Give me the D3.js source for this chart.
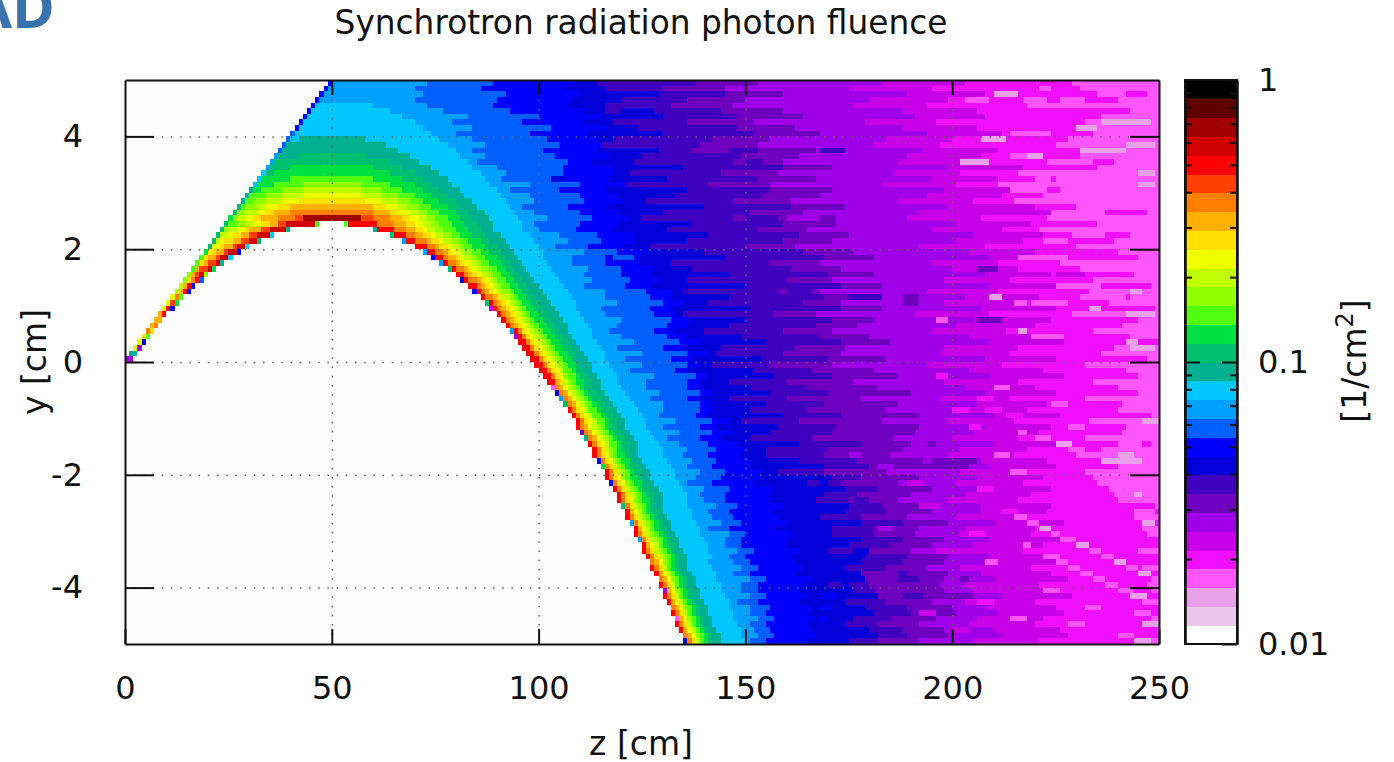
<!DOCTYPE html>
<html>
<head>
<meta charset="utf-8">
<script src="https://cdn.jsdelivr.net/npm/d3@7"></script>
<style>
  html, body { margin: 0; background: #fff; }
  svg { display: block; font-family: "DejaVu Sans", sans-serif; }
</style>
</head>
<body>
<svg id="chart" width="1394" height="762"></svg>
<script>
// palette of the colour box, index 0 = 0.01 (white) up to 29 = 1 (black)
const band_colors = ["#ffffff","#ebc8eb","#e8a0e8","#ff55ff","#f010ff","#c800e8","#a000e8","#7000c0","#4000c0","#0000d8",
  "#0000ff","#0060ff","#00a0ff","#00c8ff","#00b090","#00c070","#00e040","#50ff10","#90ff00","#c0ff00",
  "#f0ff00","#ffe000","#ffb000","#ff8000","#ff4000","#ff0000","#d00000","#a00000","#600000","#000000"];

const z_ticks = [0, 50, 100, 150, 200, 250];
const y_ticks = [-4, -2, 0, 2, 4];
const grid_z = [50, 100, 150, 200];
const cb_major = [0.01, 0.1, 1];
const cb_minor = [0.02,0.03,0.04,0.05,0.06,0.07,0.08,0.09,0.2,0.3,0.4,0.5,0.6,0.7,0.8,0.9];

// rows 0-24 (y 4.95 .. 2.55), flat pairs: z where a band starts, band index
const upper_runs = [
  [49,10,50,12],[48,10,49,12],[47,10,48,12],[46,10,47,12],
  [45,10,46,13,60,12],[44,10,45,13,64,12],[43,10,44,13,67,12],[42,10,43,13,70,12],[41,10,42,13,72,12],
  [40,11,41,13,74,12],[39,11,40,13,42,14,58,13,76,12],[38,11,39,14,63,13,78,12],[37,11,38,14,66,13,80,12],
  [36,12,37,14,42,15,58,14,69,13,81,12],[35,12,36,15,64,14,71,13,83,12],
  [34,12,35,15,40,16,60,15,67,14,74,13,84,12],[33,13,34,15,36,16,64,15,70,14,76,13,86,12],
  [32,13,33,16,40,17,60,16,67,15,72,14,78,13,87,12],[31,13,32,16,36,17,43,18,57,17,64,16,70,15,74,14,79,13,88,12],
  [30,14,31,16,33,17,38,18,43,19,57,18,62,17,67,16,72,15,76,14,81,13,90,12],
  [29,14,30,17,34,18,38,19,43,20,57,19,62,18,66,17,70,16,74,15,78,14,82,13,91,12],
  [28,14,29,17,31,18,34,19,38,20,42,21,58,20,62,19,66,18,69,17,72,16,76,15,80,14,84,13,92,12],
  [27,15,28,17,29,18,32,19,34,20,37,21,40,22,60,21,63,20,66,19,68,18,71,17,74,16,78,15,81,14,85,13,93,12],
  [26,15,27,18,29,19,32,20,34,21,36,22,40,23,60,22,64,21,66,20,69,19,71,18,73,17,76,16,80,15,83,14,87,13,94,12],
  [25,16,26,18,27,19,29,20,31,21,33,22,37,23,41,24,43,27,57,24,60,23,64,22,67,21,69,20,71,19,73,18,75,17,78,16,81,15,84,14,88,13,95,12]
];

// rows 25-49 (y 2.45 .. 0.05), ribbon left of the white hollow, last pair closes it with band 0
const left_runs = [
  [24,15,25,17,27,18,29,19,31,20,33,21,35,22,37,24,39,26,46,17,47,0],
  [23,15,24,18,25,19,27,20,29,21,30,22,33,24,35,26,39,14,40,0],
  [22,15,23,19,25,20,26,21,28,22,30,24,32,26,35,13,36,0],
  [21,15,22,19,23,20,24,21,26,22,28,24,30,26,32,15,33,0],
  [20,15,21,20,23,21,24,22,26,24,27,26,29,13,30,0],
  [19,16,20,20,21,21,22,22,24,24,25,26,27,10,28,0],
  [18,17,19,21,20,22,22,24,23,26,25,13,26,0],
  [17,17,18,21,19,22,20,24,22,26,23,14,24,0],
  [16,17,17,22,18,24,20,26,21,16,22,0],
  [15,18,16,22,17,24,18,26,19,18,20,0],
  [14,18,15,21,16,23,17,25,18,11,19,0],
  [13,19,14,22,15,25,16,10,17,0],
  [12,19,13,22,14,25,15,10,16,0],
  [11,20,12,23,13,17,14,0],
  [10,20,11,24,12,16,13,0],
  [9,20,10,25,11,10,12,0],
  [8,22,9,25,10,0],
  [7,22,8,22,9,0],
  [6,22,7,23,8,0],
  [5,23,6,21,7,0],
  [4,21,5,17,6,0],
  [3,20,4,10,5,0],
  [2,20,3,6,4,0],
  [1,14,3,0],
  [0,6,2,0]
];

// rows 25-99: starts of the bands on the falling side of the parabola
const right_levels = [25,23,22,21,20,19,18,17,16,15,14,13,12];
const right_from = [
  [53,61,65,68,70,72,74,76,79,82,85,89,96],
  [60,65,68,70,72,73,75,77,80,83,86,89,96],[64,68,70,72,74,75,77,79,81,84,87,91,98],[67,70,73,74,76,77,79,81,83,86,88,92,99],
  [70,73,75,76,78,79,81,82,84,87,90,93,100],[72,75,77,78,79,81,82,84,86,88,91,94,101],[74,77,78,80,81,82,84,85,87,90,92,95,101],
  [76,78,80,81,82,84,85,86,88,91,93,96,102],[78,80,82,83,84,85,86,88,90,92,94,97,103],[80,82,83,84,85,86,88,89,91,93,95,98,104],
  [81,83,85,86,87,88,89,90,92,94,96,99,105],[83,85,86,87,88,89,90,91,93,95,97,100,106],[84,86,87,88,89,90,91,93,94,96,98,101,107],
  [86,87,89,90,91,91,93,94,95,97,99,102,108],[87,89,90,91,92,93,94,95,96,98,100,103,109],[88,90,91,92,93,94,95,96,97,99,101,104,109],
  [90,91,92,93,94,95,96,97,98,100,102,105,110],[91,92,93,94,95,96,97,98,99,101,103,106,111],[92,93,94,95,96,97,98,99,100,102,104,107,112],
  [93,95,96,96,97,98,99,100,101,103,105,107,113],[94,96,97,97,98,99,100,101,102,104,106,108,113],[95,97,98,98,99,100,101,102,103,105,107,109,114],
  [96,98,99,99,100,101,102,103,104,106,108,110,115],[97,99,100,100,101,102,103,104,105,107,109,111,116],[98,100,101,101,102,103,104,105,106,108,109,112,116],
  [99,101,102,102,103,104,105,106,107,109,110,113,117],[100,102,103,103,104,105,106,106,108,109,111,113,118],[101,103,104,104,105,106,106,107,109,110,112,114,119],
  [102,104,104,105,106,106,107,108,109,111,113,115,119],[103,104,105,106,106,107,108,109,110,111,113,115,120],[104,105,106,107,107,108,109,110,111,112,114,116,121],
  [105,106,107,108,108,109,110,111,112,113,115,117,122],[106,107,108,109,109,110,111,112,113,114,116,118,123],[107,108,109,109,110,111,112,112,114,115,117,119,124],
  [108,109,110,110,111,112,113,113,115,116,118,120,125],[109,110,111,111,112,113,114,114,116,117,119,121,126],[109,110,111,112,112,113,114,115,116,117,119,121,126],
  [110,111,112,113,113,114,115,116,117,118,120,122,127],[111,112,113,114,114,115,116,117,118,119,121,123,128],[112,113,114,114,115,116,117,117,119,120,122,124,129],
  [113,114,115,115,116,116,117,118,119,120,122,124,130],[113,114,115,115,116,117,117,118,119,121,122,124,130],[114,115,116,116,117,118,118,119,120,122,123,125,131],
  [115,116,117,117,118,118,119,120,121,122,124,126,132],[116,117,118,118,119,119,120,121,122,123,125,127,133],[116,117,118,118,119,120,120,121,122,124,125,127,133],
  [117,118,119,119,120,121,121,122,123,125,126,128,134],[118,119,120,120,121,121,122,123,124,125,127,129,135],[119,120,121,121,122,122,123,124,125,126,128,130,136],
  [119,120,121,121,122,123,123,124,125,127,128,130,136],[120,121,122,122,123,123,124,125,126,127,128,130,136],[121,122,122,123,123,124,125,125,126,127,129,130,137],
  [121,122,123,123,124,124,125,126,127,128,129,131,137],[122,123,124,124,125,125,126,127,128,129,130,132,138],[123,124,124,125,125,126,127,127,128,129,131,132,139],
  [123,124,125,125,126,126,127,128,129,130,131,133,139],[124,125,126,126,127,127,128,129,130,131,132,134,140],[125,126,126,127,127,128,129,129,130,131,133,134,141],
  [125,126,127,127,128,128,129,130,131,132,133,135,141],[126,127,128,128,129,129,130,131,132,133,134,136,142],[127,127,128,129,129,130,130,131,132,133,134,136,141],
  [127,128,129,129,130,130,131,131,132,133,134,136,142],[128,129,129,130,130,131,132,132,133,134,135,137,143],[129,129,130,131,131,132,132,133,134,135,136,138,143],
  [129,130,131,131,132,132,133,133,134,135,136,138,144],[130,131,131,132,132,133,133,134,135,136,137,139,144],[130,131,132,132,133,133,134,134,135,136,137,139,145],
  [131,132,132,133,133,134,135,135,136,137,138,140,146],[132,132,133,134,134,135,135,136,137,138,139,141,146],[132,133,134,134,135,135,136,136,137,138,139,141,147],
  [133,134,134,135,135,136,136,137,138,139,140,142,147],[133,134,135,135,136,136,137,137,138,139,140,142,148],[134,135,135,136,136,137,138,138,139,140,141,143,149],
  [135,135,136,137,137,138,138,139,140,141,142,144,149],[135,136,137,137,138,138,139,139,140,141,142,144,150]
];
// first cell next to the hollow, rows 25-99
const rim_level = [17,14,15,12,25,12,10,12,15,25,9,25,10,25,15,5,25,25,25,12,6,25,25,25,25,25,25,25,25,3,9,12,15,25,25,25,25,7,14,25,25,25,9,16,25,25,9,25,25,25,15,25,25,12,25,25,12,25,25,25,14,25,25,17,25,6,25,25,14,25,3,25,25,14,9];

// outer bands, one value per 0.2 cm of y from 4.9 down to -4.9: z where the band starts
const from_11 = [72,70,76,80,82,84,86,88,92,95,97,99,100,103,106,108,110,112,114,116,117,118,120,121,122,124,126,127,129,130,131,133,134,136,137,138,139,141,142,143,145,146,147,148,149,150,150,151,152,152];
const from_10 = [88,90,92,97,100,102,103,104,106,107,109,110,111,112,114,116,118,121,124,127,129,130,131,132,133,135,136,137,138,139,140,141,141,142,143,144,145,146,147,148,149,150,151,152,153,154,155,155,156,156];
const from_9 = [108,108,110,112,114,114,116,116,118,118,118,119,120,121,122,124,126,128,130,132,134,135,136,137,138,138,139,140,141,142,144,146,148,150,152,154,156,157,158,159,160,161,162,163,164,164,165,165,166,166];
const from_8 = [121,122,124,124,122,122,124,126,128,130,131,132,132,134,135,136,138,140,142,143,144,145,146,147,148,150,150,151,152,153,154,155,157,160,164,168,170,172,172,173,174,175,176,177,178,178,178,178,178,178];
const from_7 = [135,138,140,142,144,146,148,150,150,150,152,153,154,156,158,160,162,164,165,166,166,166,165,165,164,164,164,165,166,167,168,170,172,174,175,176,178,180,182,183,184,185,186,188,188,188,188,187,186,185];
const from_6 = [150,152,155,158,160,160,162,162,164,165,166,166,167,168,170,172,174,175,175,175,176,176,177,177,178,179,180,182,184,186,188,190,190,190,190,190,191,192,193,194,194,195,196,198,200,200,199,198,196,195];
const from_5 = [180,182,184,185,186,188,188,190,192,192,192,194,196,198,200,200,201,202,201,200,200,200,201,201,202,202,202,203,203,204,204,204,204,204,204,204,204,204,205,205,205,205,206,206,206,207,207,208,208,208];
const from_4 = [200,201,202,202,204,204,206,208,208,210,210,212,214,215,216,216,217,218,218,218,218,219,219,219,219,220,220,220,220,220,220,220,220,220,220,220,220,221,221,222,222,222,223,223,224,224,224,224,224,224];
const from_3 = [226,228,226,230,226,232,230,226,222,220,220,222,230,236,238,236,232,238,240,240,238,240,240,242,241,240,238,240,238,242,238,240,242,240,238,238,240,246,248,248,250,250,250,250,250,250,250,250,250,250];
const outer_levels = [11,10,9,8,7,6,5,4,3];
const outer_from = [from_11, from_10, from_9, from_8, from_7, from_6, from_5, from_4, from_3];

// how far each row's edges stick out from the 0.2 cm table above (the picture is streaky along z)
const jag_inner = [1,-2,2,0,-3,1,3,-1,2,-2,0,3,-2,1,-3,2,0,-1,3,-2,1,2,-3,0,2,-1,-3,2,1,-2,3,0,-2,2,-1,1,-3,2,0,3,-2,-1,2,1,-3,0,2,-2,3,-1,1,-2,2,0,-1,2,-2,1,0,-1,2,-1,1,-2,0,2,-1,1,-1,2,0,-2,1,0,-1,2,-1,0,1,-2,1,0,-1,2,-1,0,1,-1,2,0,-1,1,-2,1,0,2,-1,0,1,-1];
const jag_outer = [3,-5,7,-2,-8,4,6,-6,2,8,-4,-7,5,1,-3,9,-6,3,-9,6,2,-5,8,-2,-7,5,-3,7,1,-8,4,9,-6,-1,6,-4,8,-7,3,-2,7,-9,5,1,-6,3,8,-3,-5,6,-8,2,7,-4,0,5,-6,3,-2,6,-5,4,1,-4,6,-2,-5,3,5,-6,2,-3,4,-1,-5,3,2,-4,5,-2,-3,4,0,-5,3,2,-4,1,4,-3,-2,5,-4,1,3,-2,-4,2,4,-3];

const streaks = [
  [0,114,127,8],[1,116,125,8],[4,133,138,7],[5,116,120,8],[8,144,148,8],[8,93,103,11],[12,137,146,7],[14,99,107,11],[14,150,154,8],[17,140,145,8],[17,103,106,9],
  [20,123,133,9],[24,150,158,8],[30,149,158,8],[31,118,123,11],[36,158,166,8],[37,160,166,8],[12,168,174,8],[38,175,183,8],[24,168,172,7],[38,188,192,7],[39,188,192,7],
  [2,210,216,2],[3,203,209,3],[3,217,223,3],[1,224,231,4],[2,232,235,4],[3,232,240,4],[2,242,247,4],[5,225,232,4],[5,232,243,4],[7,208,232,4],[8,212,230,4],
  [7,236,248,2],[8,230,235,2],[9,214,224,3],[10,207,213,2],[12,231,242,2],[11,242,249,2],[14,202,209,2],[13,214,222,3],[13,218,222,2],[14,234,239,4],[15,231,234,4],
  [16,245,249,2],[18,245,249,2],[19,214,223,3],[17,220,224,3],[22,199,212,5],[23,199,224,5],[23,237,247,4],[26,221,237,3],[27,229,237,3],[28,222,228,3],
  [30,193,202,6],[31,216,228,3],[33,206,211,7],[34,225,232,5],[36,225,236,3],[37,243,246,2],[38,209,212,2],[38,231,242,3],[39,215,218,3],[39,219,228,3],
  [40,233,236,2],[41,242,249,2],[40,245,249,4],[42,206,212,7],[42,196,199,3],[44,216,218,2],[45,219,227,3],[46,242,245,2],[47,243,249,2],
  [56,206,210,4],[58,200,204,4],[58,208,212,4],[59,213,217,4],[62,178,188,7],[63,178,186,7],[64,180,188,7],[65,182,188,7],[67,195,206,7],[68,195,204,7],
  [66,175,178,6],[68,182,186,6],[71,189,193,5],[70,168,171,9],[71,168,170,9],[72,168,172,9],[91,168,172,10],[93,168,171,10],[95,168,170,10],
  [87,178,187,7],[88,179,187,7],[89,180,187,7],[90,181,188,7],[91,182,188,7],
  [62,216,218,3],[63,220,224,3],[63,232,236,3],[64,225,229,2],[64,240,246,3],[65,228,232,3],[65,236,241,3],[66,230,235,3],[66,240,244,2],[67,236,246,2],[68,240,248,3],
  [70,234,250,3],[71,236,250,3],[72,238,250,3],[73,240,250,3],[74,240,250,3],[73,244,246,2],
  [77,215,218,3],[78,218,221,3],[79,221,224,2],[80,224,226,3],[81,226,230,3],[82,230,233,2],[83,233,236,3],[84,236,239,3],[85,239,242,2],[86,242,245,3],[87,245,248,2],[88,248,250,3],
  [82,217,219,3],[84,222,226,3],[85,225,228,3],[86,228,231,3],[87,231,234,3],[88,234,237,3],[89,237,240,3],[90,240,244,3],[91,243,247,2],[92,246,250,3],
  [58,240,244,3],[60,236,240,3],[60,246,250,2],[75,241,244,4],[76,244,249,3],[78,246,249,2],
  // small blocks in the lower right
  [52,196,199,4],[54,210,214,3],[55,186,190,7],[57,224,228,3],[59,194,198,6],[61,204,207,4],[61,228,232,3],[64,190,194,6],[66,210,214,3],[69,198,202,6],
  [69,214,218,3],[72,206,210,4],[74,176,180,8],[75,192,197,5],[76,212,216,4],[79,182,186,6],[80,204,208,4],[83,196,200,5],[83,176,180,9],[85,208,211,3],
  [86,170,174,9],[88,198,202,6],[89,170,173,8],[90,222,226,3],[92,176,180,8],[92,206,210,4],[93,232,236,3],[94,192,196,5],[95,214,218,3],[96,178,182,8],
  [96,228,232,3],[97,200,204,5],[98,172,176,9],[98,240,244,3],[99,244,248,2],[94,244,248,3],[96,246,250,2]
];

const svg = d3.select("#chart");
const x = d3.scaleLinear().domain([0, 250]).range([125, 1159]);
const y = d3.scaleLinear().domain([-5, 5]).range([644, 80]);
const row_top = i => y(5 - i * 0.1);
const row_h = row_top(1) - row_top(0);

// ==== heatmap cells, painted in order so later runs cover earlier ones ====
const cells = svg.append("g").attr("shape-rendering", "crispEdges");
function cell(i, z0, z1, level) {
  if (z1 <= z0) return;
  cells.append("rect")
    .attr("x", x(z0))
    .attr("y", row_top(i))
    .attr("width", x(Math.min(z1, 250)) - x(z0))
    .attr("height", row_h)
    .attr("fill", band_colors[level]);
}

cells.append("rect")
  .attr("x", x(0)).attr("y", y(5))
  .attr("width", x(250) - x(0)).attr("height", y(-5) - y(5))
  .attr("fill", "#fdfdfd");

function paintRuns(i, runs, zEnd) {
  for (let k = 0; k < runs.length; k += 2) {
    const z1 = k + 2 < runs.length ? runs[k + 2] : zEnd;
    if (runs[k + 1] > 0) cell(i, runs[k], z1, runs[k + 1]);
  }
}

d3.range(100).forEach(i => {
  const j = Math.floor(i / 2);
  // edge of band b on this row: table value plus the row's streak offset
  const edge = b => outer_from[b][j] + (b < 3 ? jag_inner[i] : jag_outer[i]);
  const outerStart = edge(0);
  if (i < 25) paintRuns(i, upper_runs[i], outerStart);
  else {
    if (i < 50) paintRuns(i, left_runs[i - 25], 0);
    const from = right_from[i - 25];
    cell(i, from[0], from[0] + 1, rim_level[i - 25]);
    right_levels.forEach((lvl, b) => {
      const z0 = b === 0 ? from[0] + 1 : from[b];
      const z1 = b + 1 < from.length ? from[b + 1] : outerStart;
      cell(i, z0, z1, lvl);
    });
  }
  outer_levels.forEach((lvl, b) => {
    const z1 = b + 1 < outer_levels.length ? edge(b + 1) : 250;
    cell(i, edge(b), z1, lvl);
  });
});

streaks.forEach(s => cell(s[0], s[1], s[2], s[3]));

// ==== dotted grid ====
const dots = g => g.call(s => s.select(".domain").remove())
  .selectAll("line")
  .attr("stroke", "#666").attr("stroke-width", 1.5).attr("stroke-dasharray", "1.5 7.7");

svg.append("g")
  .attr("transform", `translate(0,${y(-5)})`)
  .call(d3.axisBottom(x).tickValues(grid_z).tickFormat("").tickSize(-(y(-5) - y(5))))
  .call(dots);
svg.append("g")
  .attr("transform", `translate(${x(0)},0)`)
  .call(d3.axisLeft(y).tickValues(y_ticks).tickFormat("").tickSize(-(x(250) - x(0))))
  .call(dots);

// ==== axes, long inside ticks on all four sides as gnuplot does ====
const fontSize = 32;
function styleAxis(g) {
  g.select(".domain").attr("stroke", "#111").attr("stroke-width", 2);
  g.selectAll("line").attr("stroke", "#111").attr("stroke-width", 2);
  g.selectAll("text").attr("fill", "#111").style("font-size", fontSize + "px").style("font-family", "DejaVu Sans");
}
svg.append("g").attr("transform", `translate(0,${y(-5)})`)
  .call(d3.axisBottom(x).tickValues(z_ticks).tickFormat(String).tickSizeInner(-15).tickSizeOuter(0).tickPadding(32))
  .call(styleAxis);
svg.append("g").attr("transform", `translate(0,${y(5)})`)
  .call(d3.axisTop(x).tickValues(grid_z).tickFormat("").tickSizeInner(-15).tickSizeOuter(0))
  .call(styleAxis);
svg.append("g").attr("transform", `translate(${x(0)},0)`)
  .call(d3.axisLeft(y).tickValues(y_ticks).tickFormat(String).tickSizeInner(-29).tickSizeOuter(0).tickPadding(42))
  .call(styleAxis);
svg.append("g").attr("transform", `translate(${x(250)},0)`)
  .call(d3.axisRight(y).tickValues(y_ticks).tickFormat("").tickSizeInner(-29).tickSizeOuter(0))
  .call(styleAxis);

// ==== colour box ====
const cbX = d3.scaleLinear().domain([0, 1]).range([1185, 1237]);
const cbLog = d3.scaleLog().domain([0.01, 1]).range([644, 80]);
const cbBand = d3.scaleBand().domain(d3.range(band_colors.length - 1, -1, -1)).range([80, 644]);

svg.append("g").attr("shape-rendering", "crispEdges")
  .selectAll("rect")
  .data(band_colors)
  .enter().append("rect")
    .attr("x", cbX(0))
    .attr("y", (d, i) => cbBand(i))
    .attr("width", cbX(1) - cbX(0))
    .attr("height", cbBand.bandwidth() + 0.5)
    .attr("fill", d => d);

svg.append("g").attr("transform", `translate(${cbX(0)},0)`)
  .call(d3.axisLeft(cbLog).tickValues(cb_minor).tickFormat("").tickSizeInner(-7).tickSizeOuter(0))
  .call(styleAxis);
svg.append("g").attr("transform", `translate(${cbX(1)},0)`)
  .call(d3.axisRight(cbLog).tickValues(cb_minor).tickFormat("").tickSizeInner(-7).tickSizeOuter(0))
  .call(styleAxis);
svg.append("g").attr("transform", `translate(${cbX(0)},0)`)
  .call(d3.axisLeft(cbLog).tickValues([0.1]).tickFormat("").tickSizeInner(-15).tickSizeOuter(0))
  .call(styleAxis);
svg.append("g").attr("transform", `translate(${cbX(1)},0)`)
  .call(d3.axisRight(cbLog).tickValues(cb_major).tickFormat(String).tickSizeInner(-15).tickSizeOuter(0).tickPadding(21))
  .call(styleAxis);
svg.append("rect")
  .attr("x", cbX(0)).attr("y", 80)
  .attr("width", cbX(1) - cbX(0)).attr("height", 564)
  .attr("fill", "none").attr("stroke", "#111").attr("stroke-width", 2);

// ==== titles ====
const label = (px, py, txt, size, rot) => svg.append("text")
  .attr("transform", `translate(${px},${py})` + (rot ? ` rotate(${rot})` : ""))
  .attr("text-anchor", "middle")
  .attr("fill", "#111")
  .style("font-size", size + "px")
  .text(txt);

label(641, 34, "Synchrotron radiation photon fluence", 32.8);
label(641, 755, "z [cm]", 33);
label(46, 362, "y [cm]", 33, -90);

const cbLabel = label(1366, 361, "[1/cm", 33, -90);
cbLabel.append("tspan").attr("dy", -13).style("font-size", "24px").text("2");
cbLabel.append("tspan").attr("dy", 13).text("]");

// cropped logo corner at top left
svg.append("text")
  .attr("x", 55).attr("y", 28)
  .attr("text-anchor", "end")
  .attr("fill", "#3a72ad")
  .style("font-family", "Open Sans")
  .style("font-weight", 700)
  .style("font-size", "58px")
  .text("AD");
</script>
</body>
</html>
